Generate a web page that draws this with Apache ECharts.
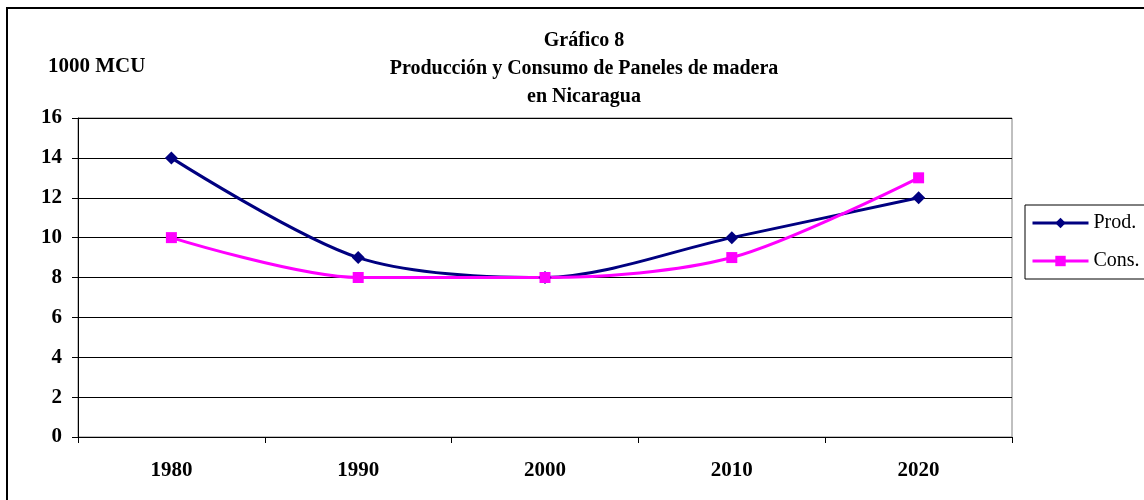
<!DOCTYPE html>
<html lang="en">
<head>
    <meta charset="UTF-8" />
    <title>Gráfico 8</title>
    <script src="https://cdn.jsdelivr.net/npm/echarts@6/dist/echarts.min.js"></script>
    <style>
        html, body { margin: 0; padding: 0; background: #fff; }
        #chart { width: 1144px; height: 500px; }
    </style>
</head>
<body>
    <div id="chart"></div>
    <script type="text/javascript">
        // data
        const years = ['1980', '1990', '2000', '2010', '2020'];
        const prod = [14, 9, 8, 10, 12];
        const cons = [10, 8, 8, 9, 13];
        const yTicks = { min: 0, max: 16, interval: 2 };

        const serif = '"Liberation Serif", "DejaVu Serif", serif';

        let chart = echarts.init(document.getElementById('chart'), null, { renderer: 'canvas' });
        chart.setOption({
            animation: false,
            backgroundColor: '#fff',
            graphic: [{
                type: 'rect',
                shape: { x: 7, y: 8, width: 1300, height: 700 },
                style: { fill: 'none', stroke: '#000', lineWidth: 2 },
                z: -1
            }, {
                type: 'text',
                left: 48, top: 56,
                style: { text: '1000 MCU', font: 'bold 21px ' + serif, fill: '#000' }
            }],
            title: {
                text: 'Gráfico 8\nProducción y Consumo de Paneles de madera\nen Nicaragua',
                left: 579, top: 22, textAlign: 'center',
                textStyle: { fontFamily: serif, fontWeight: 'bold', fontSize: 20, lineHeight: 28, color: '#000' }
            },
            legend: {
                orient: 'vertical',
                left: 1025, top: 205,
                padding: [8, 20, 8, 6],
                itemGap: 18,
                itemWidth: 56, itemHeight: 13,
                borderColor: '#000', borderWidth: 1,
                lineStyle: { width: 3 },
                textStyle: { fontFamily: serif, fontSize: 20, color: '#000' },
                data: ['Prod.', 'Cons.']
            },
            grid: {
                left: 78, top: 118, width: 934, height: 319,
                show: true, borderColor: '#808080', borderWidth: 1
            },
            xAxis: {
                type: 'category',
                data: years,
                boundaryGap: true,
                axisLine: { lineStyle: { color: '#000', width: 1 } },
                axisTick: { show: true, length: 6, lineStyle: { color: '#000' } },
                axisLabel: { margin: 23, fontFamily: serif, fontWeight: 'bold', fontSize: 21, color: '#000' },
                splitLine: { show: false }
            },
            yAxis: {
                type: 'value',
                min: yTicks.min, max: yTicks.max, interval: yTicks.interval,
                axisLine: { show: true, lineStyle: { color: '#000', width: 1 } },
                axisTick: { show: true, length: 6, lineStyle: { color: '#000' } },
                axisLabel: { margin: 16, fontFamily: serif, fontWeight: 'bold', fontSize: 21, color: '#000' },
                splitLine: { show: true, lineStyle: { color: '#000', width: 1 } }
            },
            series: [{
                name: 'Prod.',
                type: 'line',
                data: prod,
                smooth: 0.3,
                symbol: 'diamond',
                symbolSize: 13,
                color: '#000080',
                lineStyle: { color: '#000080', width: 3 },
                itemStyle: { color: '#000080' }
            }, {
                name: 'Cons.',
                type: 'line',
                data: cons,
                smooth: 0.3,
                symbol: 'rect',
                symbolSize: 11,
                color: '#ff00ff',
                lineStyle: { color: '#ff00ff', width: 3 },
                itemStyle: { color: '#ff00ff' }
            }]
        });
    </script>
</body>
</html>
